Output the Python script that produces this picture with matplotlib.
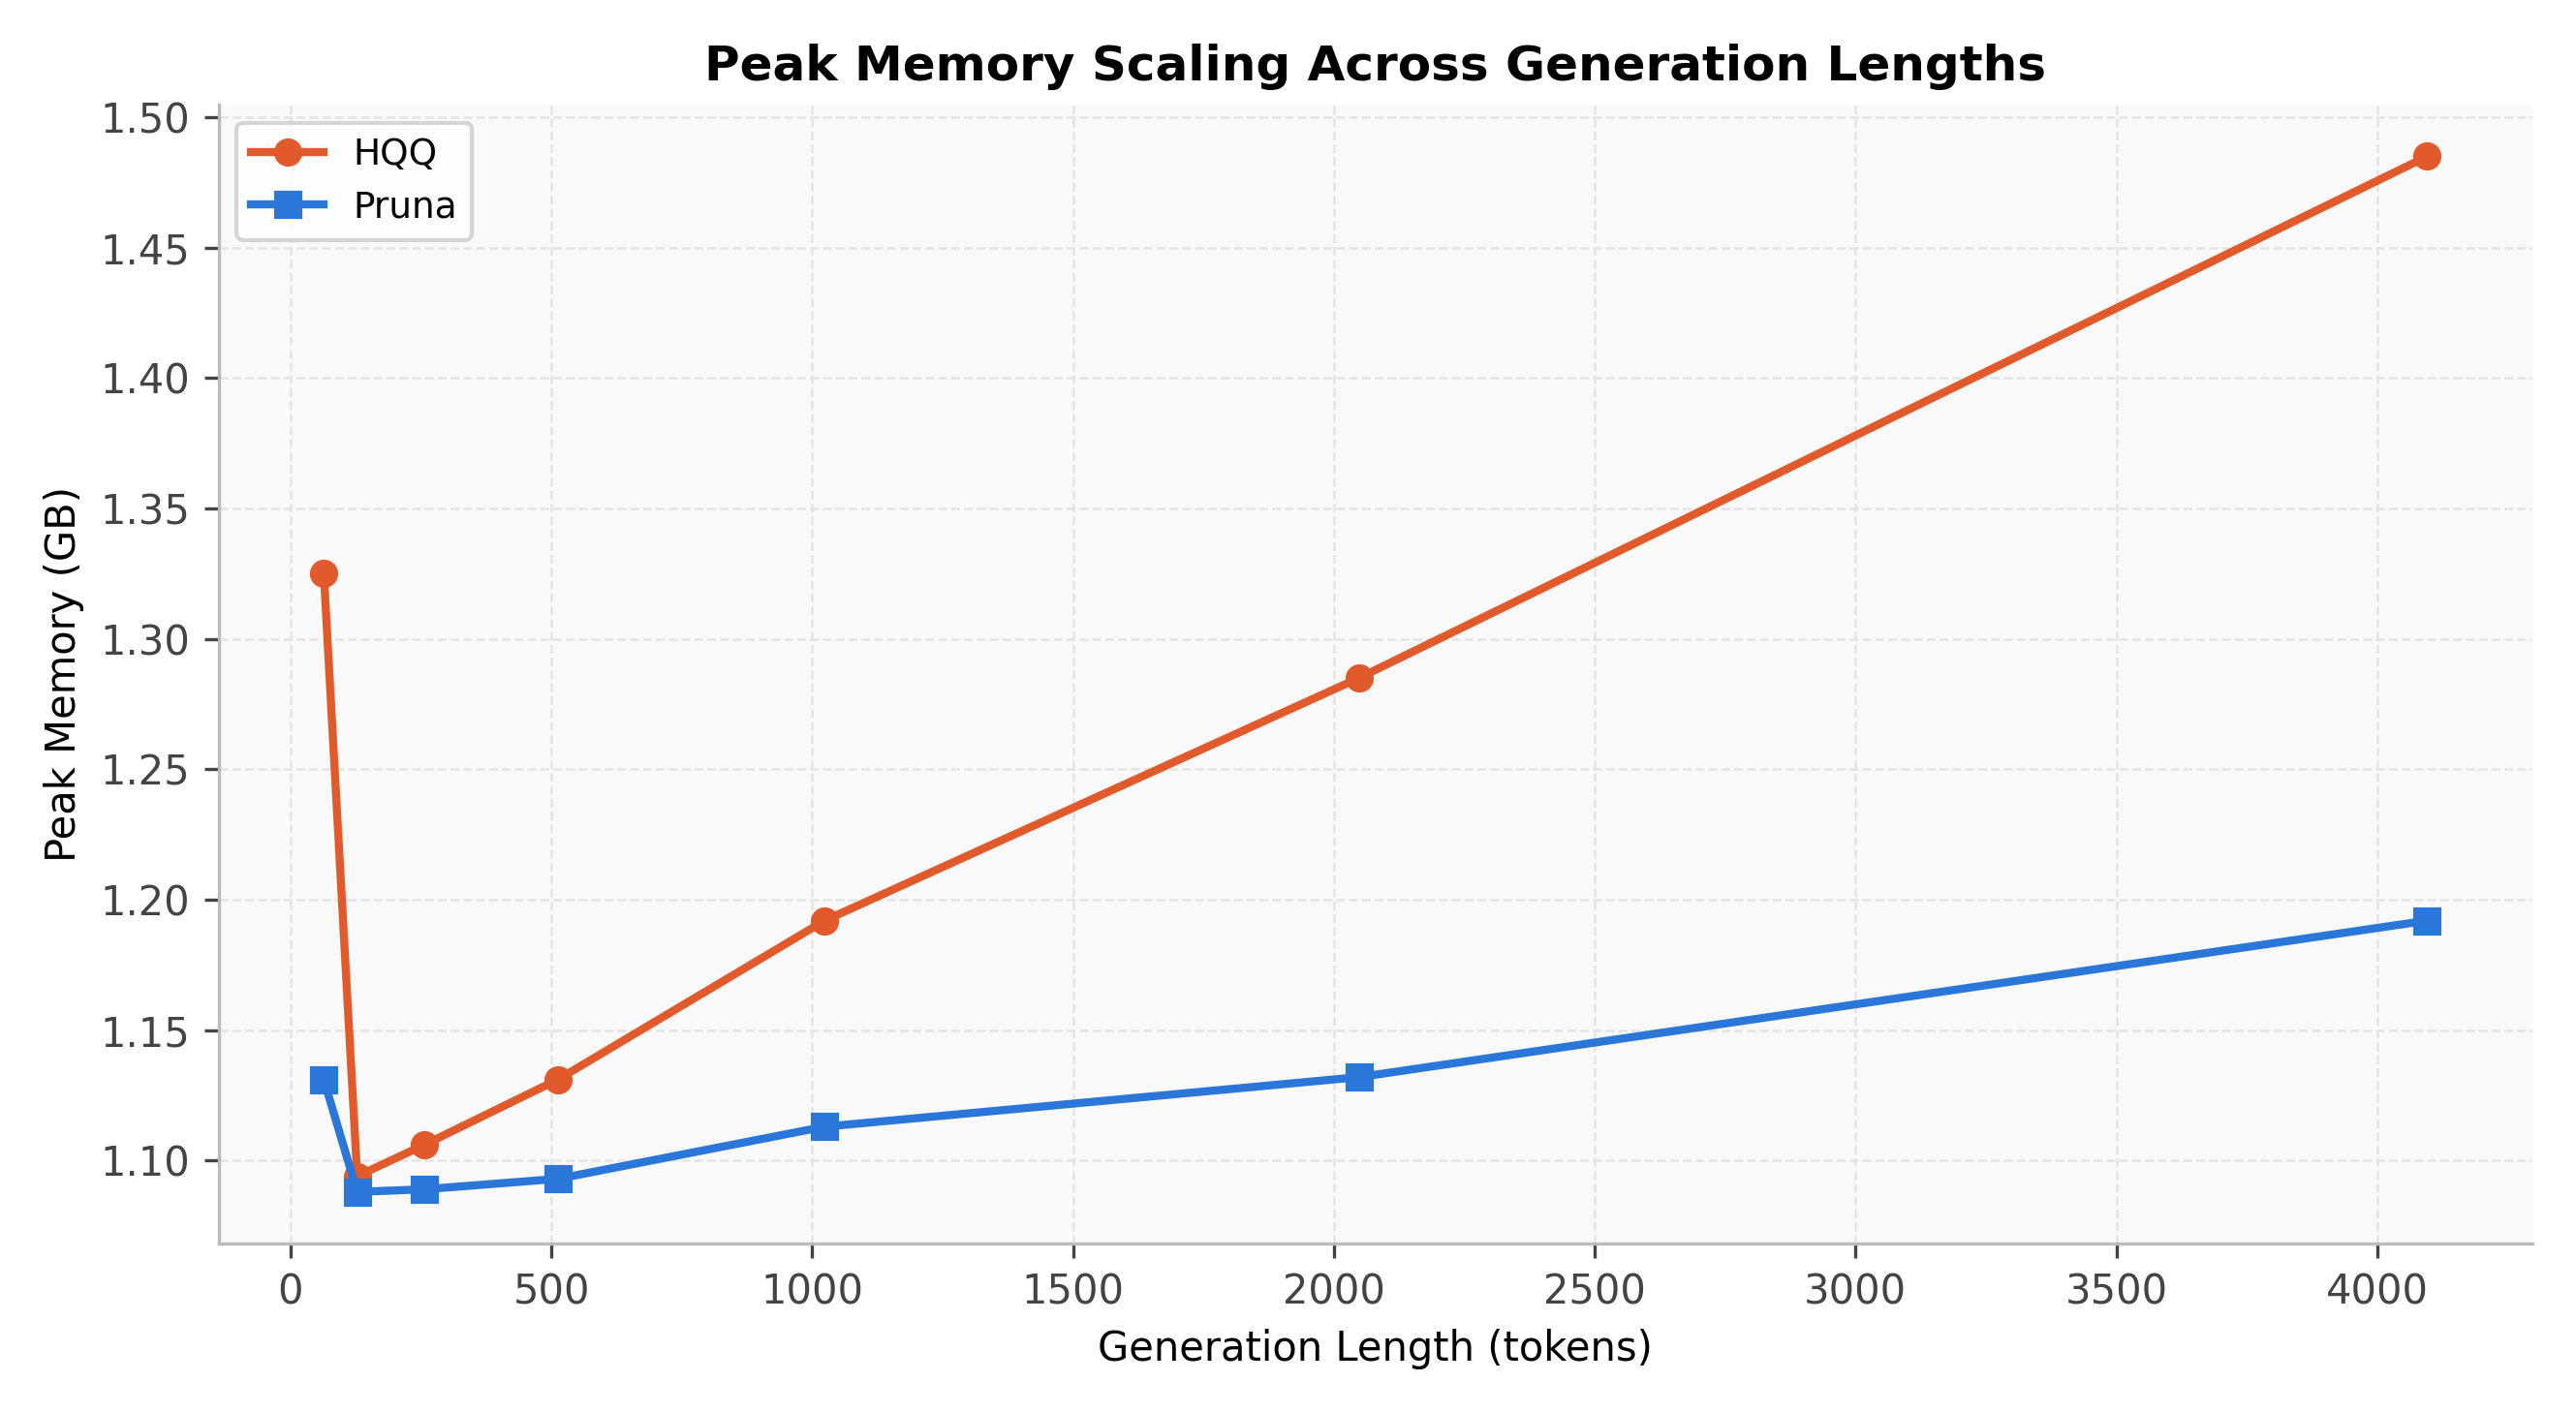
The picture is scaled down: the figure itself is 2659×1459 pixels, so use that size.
import matplotlib
matplotlib.use("Agg")
import matplotlib.pyplot as plt

gen_lengths = [64, 128, 256, 512, 1024, 2048, 4096]
hqq_mem = [1.325, 1.094, 1.106, 1.131, 1.192, 1.285, 1.485]
pruna_mem = [1.131, 1.088, 1.089, 1.093, 1.113, 1.132, 1.192]

fig, ax = plt.subplots(figsize=(2659 / 300, 1459 / 300), dpi=300)
ax.set_facecolor('#f9f9f9')

ax.plot(gen_lengths, hqq_mem, color='#e05a2b', marker='o', linewidth=2, markersize=6, label='HQQ')
ax.plot(gen_lengths, pruna_mem, color='#2a77d9', marker='s', linewidth=2, markersize=6, label='Pruna')

ax.set_title('Peak Memory Scaling Across Generation Lengths', fontweight='bold', fontsize=12)
ax.set_xlabel('Generation Length (tokens)', fontsize=10)
ax.set_ylabel('Peak Memory (GB)', fontsize=10)
ax.set_yticks([1.10, 1.15, 1.20, 1.25, 1.30, 1.35, 1.40, 1.45, 1.50])
ax.grid(True, linestyle='--', color='#e4e4e4', linewidth=0.6)
ax.tick_params(colors='#444444', labelsize=10)
for side in ['top', 'right']:
    ax.spines[side].set_visible(False)
for side in ['left', 'bottom']:
    ax.spines[side].set_color('#bbbbbb')
ax.legend(loc='upper left', fontsize=9)

fig.tight_layout()
fig.savefig('out.png', dpi=300)
